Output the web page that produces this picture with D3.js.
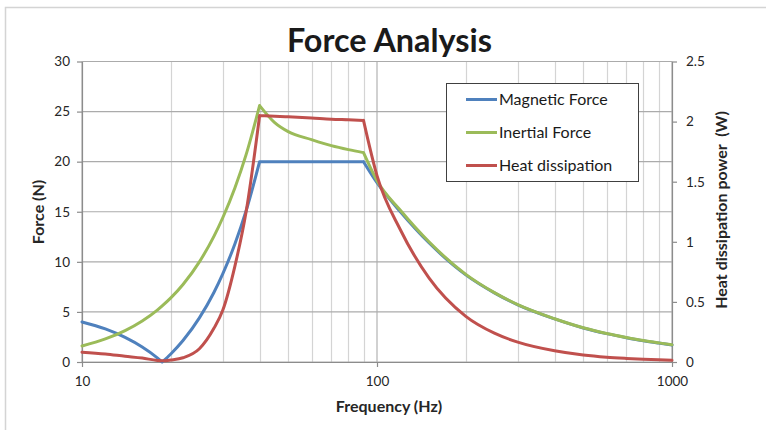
<!DOCTYPE html>
<html>
<head>
<meta charset="utf-8">
<script src="https://cdn.jsdelivr.net/npm/d3@7.9.0/dist/d3.min.js"></script>
<style>
  body { margin: 0; background: #fff; }
  svg { display: block; font-family: Lato, "Open Sans", sans-serif; }
</style>
</head>
<body>
<svg id="chart" width="766" height="430"></svg>
<script>
// values
const freq = [10, 12, 14, 16, 18, 18.7, 20, 22, 25, 28, 30, 33, 36, 40,
  45, 50, 60, 70, 80, 90,
  100, 120, 150, 200, 250, 300, 400, 500, 600, 700, 800, 900, 1000];
const magnetic = [4.0, 3.3, 2.46, 1.5, 0.42, 0, 0.8, 2.14, 4.4, 6.94, 8.8, 11.8, 15.1, 20,
  20, 20, 20, 20, 20, 20,
  17.9, 15.0, 11.9, 8.7, 6.9, 5.7, 4.3, 3.4, 2.83, 2.43, 2.12, 1.89, 1.7];
const inertial = [1.6, 2.3, 3.14, 4.1, 5.18, 5.6, 6.4, 7.74, 10.0, 12.54, 14.4, 17.4, 20.7, 25.6,
  23.9, 23.0, 22.2, 21.6, 21.2, 20.9,
  18.1, 15.15, 12.0, 8.75, 6.93, 5.73, 4.32, 3.42, 2.85, 2.45, 2.14, 1.91, 1.72];
const heat = [0.082, 0.067, 0.048, 0.033, 0.013, 0.01, 0.017, 0.035, 0.11, 0.28, 0.43, 0.8, 1.25, 2.05,
  2.045, 2.04, 2.03, 2.02, 2.015, 2.01,
  1.55, 1.1, 0.7, 0.38, 0.24, 0.165, 0.093, 0.058, 0.04, 0.03, 0.023, 0.018, 0.015];

// frequencies where a curve has a sharp corner
const magneticCorners = [18.7, 40, 90];
const otherCorners = [40, 90];

const seriesNames = ["Magnetic Force", "Inertial Force", "Heat dissipation"];
const seriesColors = ["#4F81BD", "#9BBB59", "#C0504D"];
const xTicks = [10, 100, 1000];
const yLeftTicks = [0, 5, 10, 15, 20, 25, 30];
const yRightTicks = [0, 0.5, 1, 1.5, 2, 2.5];

const svg = d3.select("#chart");

const area = { left: 82, right: 672, top: 61.5, bottom: 362 };

const x = d3.scaleLog().domain([10, 1000]).range([area.left, area.right]);
const yL = d3.scaleLinear().domain([0, 30]).range([area.bottom, area.top]);
const yR = d3.scaleLinear().domain([0, 2.5]).range([area.bottom, area.top]);

// outer chart frame
svg.append("rect")
  .attr("x", 5.5).attr("y", 7.5)
  .attr("width", 900).attr("height", 600)
  .attr("fill", "none")
  .attr("stroke", "#d4d4d4")
  .attr("stroke-width", 1.5);

// minor vertical gridlines
const minor = x.ticks().filter((d) => !xTicks.includes(d));
svg.append("g")
  .selectAll("line")
  .data(minor)
  .join("line")
  .attr("x1", (d) => Math.round(x(d)) + 0.5)
  .attr("x2", (d) => Math.round(x(d)) + 0.5)
  .attr("y1", area.top)
  .attr("y2", area.bottom)
  .attr("stroke", "#d4d4d4")
  .attr("stroke-width", 1.2);

// major vertical gridlines
svg.append("g")
  .selectAll("line")
  .data(xTicks)
  .join("line")
  .attr("x1", (d) => x(d))
  .attr("x2", (d) => x(d))
  .attr("y1", area.top)
  .attr("y2", area.bottom)
  .attr("stroke", "#b3b3b3")
  .attr("stroke-width", 1.2);

// horizontal gridlines
svg.append("g")
  .selectAll("line")
  .data(yLeftTicks)
  .join("line")
  .attr("x1", area.left)
  .attr("x2", area.right)
  .attr("y1", (d) => yL(d))
  .attr("y2", (d) => yL(d))
  .attr("stroke", "#ababab")
  .attr("stroke-width", 1.2);

function styleAxis(g) {
  g.select(".domain").attr("stroke", "#8c8c8c").attr("stroke-width", 1.2);
  g.selectAll(".tick line").attr("stroke", "#8c8c8c").attr("stroke-width", 1.2);
  g.selectAll(".tick text")
    .attr("fill", "#262626")
    .style("font-size", "13.5px")
    .style("font-family", "Lato, 'Open Sans', sans-serif");
}

svg.append("g")
  .attr("transform", `translate(${area.left},0)`)
  .call(d3.axisLeft(yL).tickValues(yLeftTicks).tickSize(5).tickSizeOuter(0).tickPadding(7))
  .call(styleAxis);

svg.append("g")
  .attr("transform", `translate(${area.right},0)`)
  .call(d3.axisRight(yR).tickValues(yRightTicks).tickSize(5).tickSizeOuter(0).tickPadding(9)
    .tickFormat((d) => String(d)))
  .call(styleAxis);

svg.append("g")
  .attr("transform", `translate(0,${area.bottom})`)
  .call(d3.axisBottom(x).tickValues(xTicks).tickSize(5).tickSizeOuter(0).tickPadding(9)
    .tickFormat(d3.format("d")))
  .call(styleAxis);

// series lines, smoothed between corners
const rows = freq.map((f, i) => ({ f, m: magnetic[i], n: inertial[i], h: heat[i] }));

function pieces(corners) {
  const cuts = [freq[0], ...corners, freq[freq.length - 1]];
  return d3.pairs(cuts).map(([a, b]) => rows.filter((d) => d.f >= a && d.f <= b));
}

function drawSeries(key, scale, corners, color) {
  const line = d3.line()
    .curve(d3.curveMonotoneX)
    .x((d) => x(d.f))
    .y((d) => scale(d[key]));
  const d = pieces(corners).map((p) => line(p)).join("");
  lines.append("path").attr("d", d).attr("stroke", color);
}

const lines = svg.append("g")
  .attr("fill", "none")
  .attr("stroke-width", 3)
  .attr("stroke-linejoin", "round")
  .attr("stroke-linecap", "round");

drawSeries("m", yL, magneticCorners, seriesColors[0]);
drawSeries("n", yL, otherCorners, seriesColors[1]);
drawSeries("h", yR, otherCorners, seriesColors[2]);

// title
svg.append("text")
  .attr("x", 389.5)
  .attr("y", 52)
  .attr("text-anchor", "middle")
  .attr("font-weight", "bold")
  .attr("font-size", 32)
  .attr("fill", "#1a1a1a")
  .attr("textLength", 205)
  .attr("lengthAdjust", "spacingAndGlyphs")
  .text("Force Analysis");

// axis titles
svg.append("text")
  .attr("transform", "translate(44,212) rotate(-90)")
  .attr("text-anchor", "middle")
  .attr("font-weight", "bold")
  .attr("font-size", 16)
  .attr("fill", "#262626")
  .text("Force (N)");

svg.append("text")
  .attr("transform", "translate(727,210) rotate(-90)")
  .attr("text-anchor", "middle")
  .attr("font-weight", "bold")
  .attr("font-size", 16)
  .attr("fill", "#262626")
  .attr("xml:space", "preserve")
  .style("white-space", "pre")
  .text("Heat dissipation power  (W)");

svg.append("text")
  .attr("x", 389)
  .attr("y", 412)
  .attr("text-anchor", "middle")
  .attr("font-weight", "bold")
  .attr("font-size", 16)
  .attr("fill", "#262626")
  .text("Frequency (Hz)");

// legend
const legend = svg.append("g");
legend.append("rect")
  .attr("x", 446.5).attr("y", 83.5)
  .attr("width", 192).attr("height", 98)
  .attr("fill", "#fff")
  .attr("stroke", "#404040")
  .attr("stroke-width", 1);

const items = legend.selectAll("g")
  .data(seriesNames)
  .join("g")
  .attr("transform", (d, i) => `translate(0,${99.5 + i * 33})`);

items.append("line")
  .attr("x1", 466).attr("x2", 497)
  .attr("stroke", (d, i) => seriesColors[i])
  .attr("stroke-width", 3);

items.append("text")
  .attr("x", 499)
  .attr("dy", "0.35em")
  .attr("font-size", 16)
  .attr("fill", "#1a1a1a")
  .text((d) => d);
</script>
</body>
</html>
